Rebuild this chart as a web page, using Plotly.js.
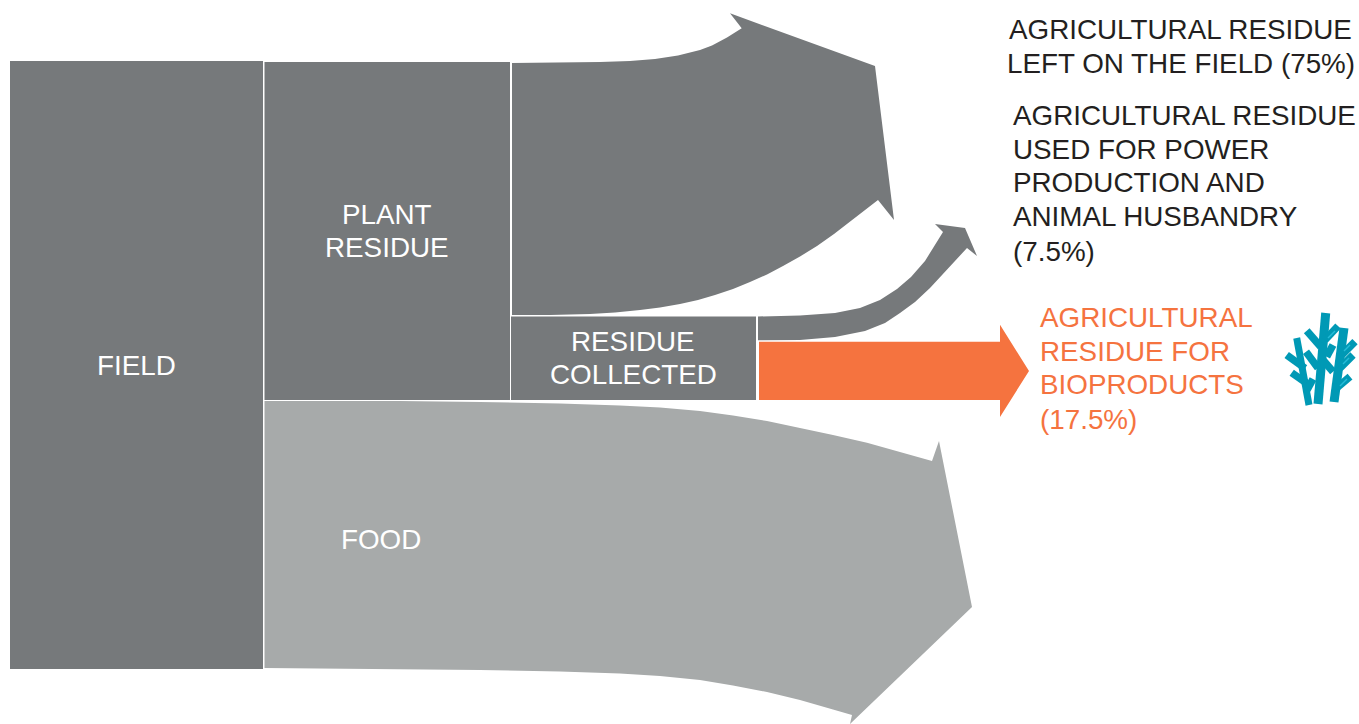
<!DOCTYPE html>
<html>
<head>
<meta charset="utf-8">
<script src="https://cdn.plot.ly/plotly-3.0.1.min.js"></script>
<style>html,body{margin:0;padding:0;background:#fff}#chart{width:1359px;height:724px}</style>
</head>
<body>
<div id="chart"></div>
<script>
// Where the plant residue goes, as labelled shares of the residue block (which is 100).
const residueShares = [75, 7.5, 17.5];
const plantResidueShare = 100;
const foodShare = 79.6;

// Free-form edges of the flows beyond their roots, on the 1359 x 724 drawing grid.
const leftFieldTopX = [560, 600, 630, 655, 678, 700, 712, 727, 741.7, 730, 875, 894, 878, 864, 850, 834, 817, 800, 783, 767, 750, 733, 715, 698, 680, 660, 640, 615, 590, 550];
const leftFieldTopY = [62.5, 62, 61, 59, 55.5, 50, 45.5, 37.5, 28.3, 13.3, 66, 220, 200, 211, 222, 234, 246, 256.5, 266, 274.5, 282, 289, 295, 300, 304, 307.5, 310, 312.5, 314, 315];

const powerEdgeX = [800, 835, 860, 880, 897, 911, 925, 943, 935, 965, 977, 967, 957, 945, 930, 915, 900, 885, 865, 835, 800];
const powerEdgeY = [315.5, 313, 308, 300, 289, 277, 261, 232, 224, 228, 256, 248, 259, 272, 288, 302, 313, 323, 331, 337, 340];

const foodTopX = [400, 480, 560, 620, 660, 700, 733, 767, 800, 833, 867, 900, 932, 939, 972, 850, 852, 833, 800, 767, 733, 700, 660, 620, 560, 480, 400];
const foodTopY = [401, 402, 403.5, 405.5, 407.5, 411, 415.5, 421, 427.7, 435, 442.7, 451.7, 461, 441, 607, 724, 715, 709.5, 700, 692, 685.5, 680, 676, 673.5, 671.5, 670, 669];

// Seaweed-like bioproduct mark: stalks and branches, separated by gaps.
const stalkX = [1325.7, 1318, null, 1344, 1334];
const stalkY = [313, 404, null, 328, 402];
const thinStalkX = [1296.7, 1309];
const thinStalkY = [338, 405];
const branchX = [1306.7, 1320.7, null, 1338, 1325, null, 1355, 1341.7, null, 1353, 1340, null, 1350, 1336.7, null, 1333, 1326.7, null, 1323, 1333, null, 1286.7, 1305, null, 1291.7, 1306.7, null, 1313, 1307, null, 1306, 1318];
const branchY = [330.7, 346.7, null, 326, 340, null, 341.7, 355, null, 355, 368, null, 376.7, 388, null, 345, 356.7, null, 360, 371.7, null, 355, 368.3, null, 372.7, 383.3, null, 379, 390, null, 351.7, 368];
const glintX = [1335, 1328, null, 1350, 1344, null, 1349, 1343, null, 1347, 1340];
const glintY = [331, 338, null, 345, 351, null, 358, 364, null, 379, 386];

// Text
const nodeNames = ['FIELD', 'PLANT', 'RESIDUE', 'RESIDUE', 'COLLECTED', 'FOOD'];
const leftFieldLines = ['AGRICULTURAL RESIDUE', `LEFT ON THE FIELD (${residueShares[0]}%)`];
const powerLines = ['AGRICULTURAL RESIDUE', 'USED FOR POWER', 'PRODUCTION AND', 'ANIMAL HUSBANDRY', `(${residueShares[1]}%)`];
const bioLines = ['AGRICULTURAL', 'RESIDUE FOR', 'BIOPRODUCTS', `(${residueShares[2]}%)`];

const DARK = '#76797b', LIGHT = '#a7aaaa', ORANGE = '#f5733f', TEAL = '#0099b5', INK = '#231f20';

// Flow thickness: shares stack upward from the base of the residue block.
const baseY = 400, pxPerShare = 3.38;
const yAt = s => baseY - s * pxPerShare;
const collectedShare = residueShares[1] + residueShares[2];
const fieldTop = yAt(plantResidueShare), fieldBottom = yAt(-foodShare);

function polygon(xs, ys, color) {
  return {type: 'scatter', mode: 'lines', x: xs.concat(xs[0]), y: ys.concat(ys[0]),
          fill: 'toself', fillcolor: color, line: {color: color, width: 0}, hoverinfo: 'skip'};
}
function block(x0, x1, y0, y1, color) {
  return polygon([x0, x1, x1, x0], [y0, y0, y1, y1], color);
}
function strokes(xs, ys, color, width) {
  return {type: 'scatter', mode: 'lines', x: xs, y: ys, connectgaps: false,
          line: {color: color, width: width}, hoverinfo: 'skip'};
}

const bioTop = yAt(residueShares[2]) + 1;
const bioMid = (bioTop + baseY) / 2;
const headFlare = 17;

const traces = [
  block(10, 263, fieldTop - 1, fieldBottom, DARK),
  block(264.5, 510, fieldTop, baseY, DARK),
  block(511, 756, yAt(collectedShare) + 1, baseY, DARK),
  polygon([512, ...leftFieldTopX, 512], [63, ...leftFieldTopY, yAt(collectedShare) - 0.5], DARK),
  polygon([758, ...powerEdgeX, 758], [yAt(collectedShare) + 1, ...powerEdgeY, yAt(residueShares[2]) - 0.5], DARK),
  polygon([759, 1000, 1000, 1029, 1000, 1000, 759],
          [bioTop, bioTop, bioTop - headFlare, bioMid, baseY + headFlare, baseY, baseY], ORANGE),
  polygon([264.5, ...foodTopX, 264.5], [baseY + 1, ...foodTopY, fieldBottom - 1], LIGHT),
  strokes(stalkX, stalkY, TEAL, 9),
  strokes(thinStalkX, thinStalkY, TEAL, 7),
  strokes(branchX, branchY, TEAL, 7.5),
  strokes(glintX, glintY, '#25bcd8', 1.5)
];

const FONT = 'Liberation Sans, Arial, sans-serif';
function label(text, x, y, color, anchor) {
  return {text: text, x: x, y: y, xref: 'x', yref: 'y', showarrow: false, xanchor: anchor, yanchor: 'middle',
          font: {family: FONT, size: 27.8, color: color}, borderpad: 0, borderwidth: 0};
}
function column(lines, x, ys, color) {
  return lines.map((t, i) => label(t, x, ys[i], color, 'left'));
}
const collectedMid = (yAt(collectedShare) + 1 + baseY) / 2;

const annotations = [
  label(nodeNames[0], 136, 365, '#ffffff', 'center'),
  label(nodeNames[1], 387, 214, '#ffffff', 'center'),
  label(nodeNames[2], 387, 247, '#ffffff', 'center'),
  label(nodeNames[3], 633, collectedMid - 16.5, '#ffffff', 'center'),
  label(nodeNames[4], 633, collectedMid + 16.5, '#ffffff', 'center'),
  label(nodeNames[5], 381, 539, '#ffffff', 'center'),
  label(leftFieldLines[0], 1009, 29, INK, 'left'),
  label(leftFieldLines[1], 1007, 63, INK, 'left'),
  ...column(powerLines, 1013, [115, 149, 182, 216, 251], INK),
  ...column(bioLines, 1040, [317, 351, 384, 419], ORANGE)
];

const hiddenAxis = {visible: false, showgrid: false, zeroline: false, fixedrange: true};
const layout = {
  width: 1359, height: 724,
  margin: {l: 0, r: 0, t: 0, b: 0},
  paper_bgcolor: '#ffffff', plot_bgcolor: '#ffffff',
  showlegend: false, hovermode: false,
  xaxis: {...hiddenAxis, range: [0, 1359]},
  yaxis: {...hiddenAxis, range: [724, 0]},
  annotations: annotations
};
Plotly.newPlot('chart', traces, layout, {staticPlot: true, displayModeBar: false});
</script>
</body>
</html>
